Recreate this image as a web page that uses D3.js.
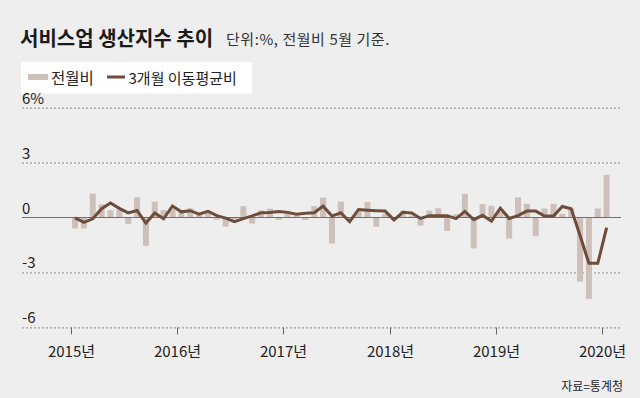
<!DOCTYPE html>
<html>
<head>
<meta charset="utf-8">
<script src="https://cdn.jsdelivr.net/npm/d3@7"></script>
<style>
  html, body { margin: 0; padding: 0; background: #eeeeee; }
  svg { display: block; }
  text { font-family: "Noto Sans CJK KR", "Noto Sans", sans-serif; }
</style>
</head>
<body>
<svg id="chart" width="640" height="398"></svg>
<script>
// ---- data ----
const title = "서비스업 생산지수 추이";
const subtitle = "단위:%, 전월비 5월 기준.";
const source = "자료=통계청";
const seriesNames = ["전월비", "3개월 이동평균비"];

// monthly categories, May 2015 .. May 2020 (61 months)
const months = [];
for (let y = 2015, m = 5; months.length < 61; ) {
  months.push(y + "-" + String(m).padStart(2, "0"));
  m++; if (m > 12) { m = 1; y++; }
}

// month-on-month change (%)
const momValues = [
  -0.6, -0.6, 1.3, 0.72, 0.4, 0.45, -0.35, 1.1, -1.55, 0.87,
  0.4, 0.45, 0.3, 0.5, 0.15, 0.35, -0.12, -0.5, -0.1, 0.62,
  -0.33, 0.38, 0.48, -0.13, 0.25, 0.1, -0.14, 0.62, 1.08, -1.42,
  0.87, -0.1, 0.35, 0.85, -0.5, 0.2, -0.1, 0.38, 0.1, -0.45,
  0.38, 0.5, -0.73, 0.17, 1.29, -1.69, 0.73, 0.64, 0.3, -1.15,
  1.1, 0.75, -1.02, 0.49, 0.75, 0.2, 0.49, -3.5, -4.44, 0.49,
  2.33
];

// 3-month moving average (%)
const maValues = [
  -0.02, -0.27, -0.07, 0.48, 0.79, 0.5, 0.25, 0.38, -0.3, 0.25,
  -0.07, 0.63, 0.31, 0.37, 0.18, 0.34, 0.1, -0.03, -0.23, -0.06,
  0.09, 0.26, 0.27, 0.33, 0.28, 0.18, 0.23, 0.26, 0.62, 0.08,
  0.26, -0.23, 0.44, 0.4, 0.37, 0.35, -0.13, 0.28, 0.25, -0.05,
  0.1, 0.1, 0.1, -0.06, 0.33, -0.12, 0.12, -0.2, 0.51, -0.05,
  0.1, 0.35, 0.35, 0.08, 0.08, 0.6, 0.48, -0.98, -2.5, -2.5,
  -0.55
];

const yTicks = [6, 3, 0, -3, -6];
const yTickLabels = ["6%", "3", "0", "-3", "-6"];
const yearTickMonths = ["2015-05", "2016-05", "2017-05", "2018-05", "2019-05", "2020-05"];
const yearTickLabels = ["2015년", "2016년", "2017년", "2018년", "2019년", "2020년"];

// ---- styles ----
const barColor = "#cdbfba";
const lineColor = "#6d4c3a";

const svg = d3.select("#chart");
const W = 640, H = 398;
svg.append("rect").attr("width", W).attr("height", H).attr("fill", "#eeeeee");

const x = d3.scaleBand().domain(months).range([70.6, 70.6 + 61 * 8.86]).padding(0);
const y = d3.scaleLinear().domain([-6, 6]).range([327.4, 107.6]);
const gridX0 = 22, gridX1 = 621;

// title
svg.append("text").attr("x", 20).attr("y", 45.5)
  .attr("font-size", 20).attr("font-weight", 700).attr("fill", "#1a1a1a")
  .text(title);
svg.append("text").attr("x", 226).attr("y", 45)
  .attr("font-size", 15).attr("letter-spacing", 0.55).attr("fill", "#333")
  .text(subtitle);

// legend
const lg = svg.append("g");
lg.append("rect").attr("x", 21).attr("y", 62).attr("width", 231).attr("height", 31.5).attr("fill", "#ffffff");
lg.append("rect").attr("x", 28).attr("y", 74).attr("width", 20).attr("height", 6).attr("fill", barColor);
lg.append("text").attr("x", 51).attr("y", 84).attr("font-size", 15.5).attr("fill", "#222").text(seriesNames[0]);
lg.append("line").attr("x1", 107).attr("x2", 125).attr("y1", 77).attr("y2", 77)
  .attr("stroke", lineColor).attr("stroke-width", 3);
lg.append("text").attr("x", 128.5).attr("y", 84).attr("font-size", 15).attr("fill", "#222").text(seriesNames[1]);

// gridlines + y labels
const gg = svg.append("g");
yTicks.forEach((v, k) => {
  if (v !== 0) {
    gg.append("line").attr("x1", gridX0).attr("x2", gridX1)
      .attr("y1", y(v) + 0.5).attr("y2", y(v) + 0.5)
      .attr("stroke", "#8a8a8a").attr("stroke-width", 1).attr("stroke-dasharray", "2,2");
  }
  gg.append("text").attr("x", 22).attr("y", y(v) - 4)
    .attr("font-size", 15).attr("fill", "#222").text(yTickLabels[k]);
});

// x ticks
const xg = svg.append("g");
yearTickMonths.forEach((m, k) => {
  const px = Math.round(x(m)) + 0.5;
  xg.append("line").attr("x1", px).attr("x2", px)
    .attr("y1", y(-6)).attr("y2", y(-6) + 7)
    .attr("stroke", "#666").attr("stroke-width", 1);
  xg.append("text").attr("x", px).attr("y", 357).attr("text-anchor", "middle")
    .attr("font-size", 15).attr("fill", "#222").text(yearTickLabels[k]);
});

// bars
const barW = 6;
svg.append("g").selectAll("rect").data(momValues).join("rect")
  .attr("x", (d, i) => x(months[i]) + x.bandwidth() / 2 - barW / 2)
  .attr("y", d => Math.min(y(d), y(0)))
  .attr("width", barW)
  .attr("height", d => Math.abs(y(d) - y(0)))
  .attr("fill", barColor);

// zero line
svg.append("line").attr("x1", gridX0).attr("x2", gridX1)
  .attr("y1", y(0)).attr("y2", y(0))
  .attr("stroke", "#707070").attr("stroke-width", 1);

// moving-average line
const line = d3.line()
  .x((d, i) => x(months[i]) + x.bandwidth() / 2)
  .y(d => y(d));
svg.append("path").datum(maValues)
  .attr("d", line)
  .attr("fill", "none").attr("stroke", lineColor)
  .attr("stroke-width", 3).attr("stroke-linejoin", "miter");

// source
svg.append("text").attr("x", 623).attr("y", 391).attr("text-anchor", "end")
  .attr("font-size", 12).attr("fill", "#222").text(source);
</script>
</body>
</html>
